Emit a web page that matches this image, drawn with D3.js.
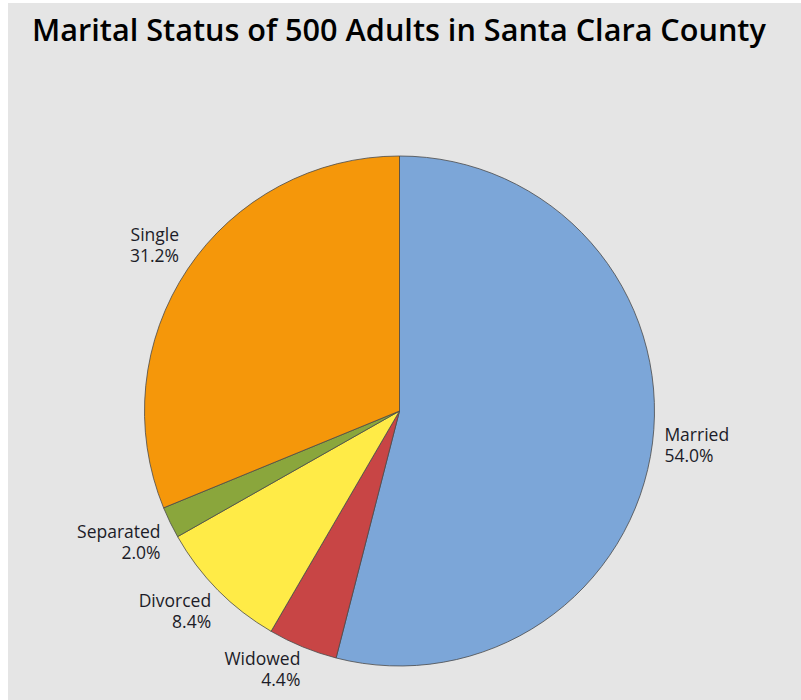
<!DOCTYPE html>
<html>
<head>
<meta charset="utf-8">
<script src="https://cdn.jsdelivr.net/npm/d3@7"></script>
<style>
html,body{margin:0;padding:0;background:#ffffff;}
svg{display:block;}
</style>
</head>
<body>
<script>
const title = "Marital Status of 500 Adults in Santa Clara County";
const categories = ["Married", "Widowed", "Divorced", "Separated", "Single"];
const percents = [54.0, 4.4, 8.4, 2.0, 31.2];
const colors = ["#7CA6D8", "#C84545", "#FFEB47", "#8AA63C", "#F5970A"];

const W = 801, H = 700;
const cx = 399.5, cy = 411, r = 255, labelR = 269;

const svg = d3.select("body").append("svg").attr("width", W).attr("height", H);
svg.append("rect").attr("x", 8).attr("y", 3).attr("width", W - 8).attr("height", H - 3).attr("fill", "#E5E5E5");

const t = svg.append("text").attr("x", 399).attr("y", 41).attr("text-anchor", "middle")
  .attr("font-family", "'Open Sans', sans-serif").attr("font-weight", 600)
  .attr("font-size", 28).attr("fill", "#000").text(title);
const tw = t.node().getComputedTextLength();
t.attr("font-size", 28 * 734 / tw);

const data = categories.map((c, i) => ({name: c, value: percents[i], color: colors[i]}));
const pie = d3.pie().value(d => d.value).sort(null);
const arcs = pie(data);
const arc = d3.arc().innerRadius(0).outerRadius(r);

const g = svg.append("g").attr("transform", `translate(${cx},${cy})`);
g.selectAll("path").data(arcs).join("path")
  .attr("d", arc).attr("fill", d => d.data.color)
  .attr("stroke", "#4a4a4a").attr("stroke-width", 0.8).attr("stroke-linejoin", "round");

const lineH = 21;
const fs = 17.5;
arcs.forEach(a => {
  const mid = (a.startAngle + a.endAngle) / 2;
  const px = labelR * Math.sin(mid);
  const py = -labelR * Math.cos(mid);
  const u = -Math.cos(mid);
  const right = Math.sin(mid) >= 0;
  const shift = u > 0 ? (u < 0.2 ? -0.5 : 12 - 4 * Math.max(0, (u - 0.45) / 0.5)) : -17;
  const b1 = py + shift - 3;
  const x = right ? px - 2 : px + 3;
  const txt = g.append("text")
    .attr("text-anchor", right ? "start" : "end")
    .attr("x", x)
    .attr("font-family", "'Open Sans', sans-serif").attr("font-size", fs).attr("fill", "#1c1c28");
  txt.append("tspan").attr("x", x).attr("y", b1).text(a.data.name);
  txt.append("tspan").attr("x", x).attr("y", b1 + lineH).text(a.data.value.toFixed(1) + "%");
});
</script>
</body>
</html>
